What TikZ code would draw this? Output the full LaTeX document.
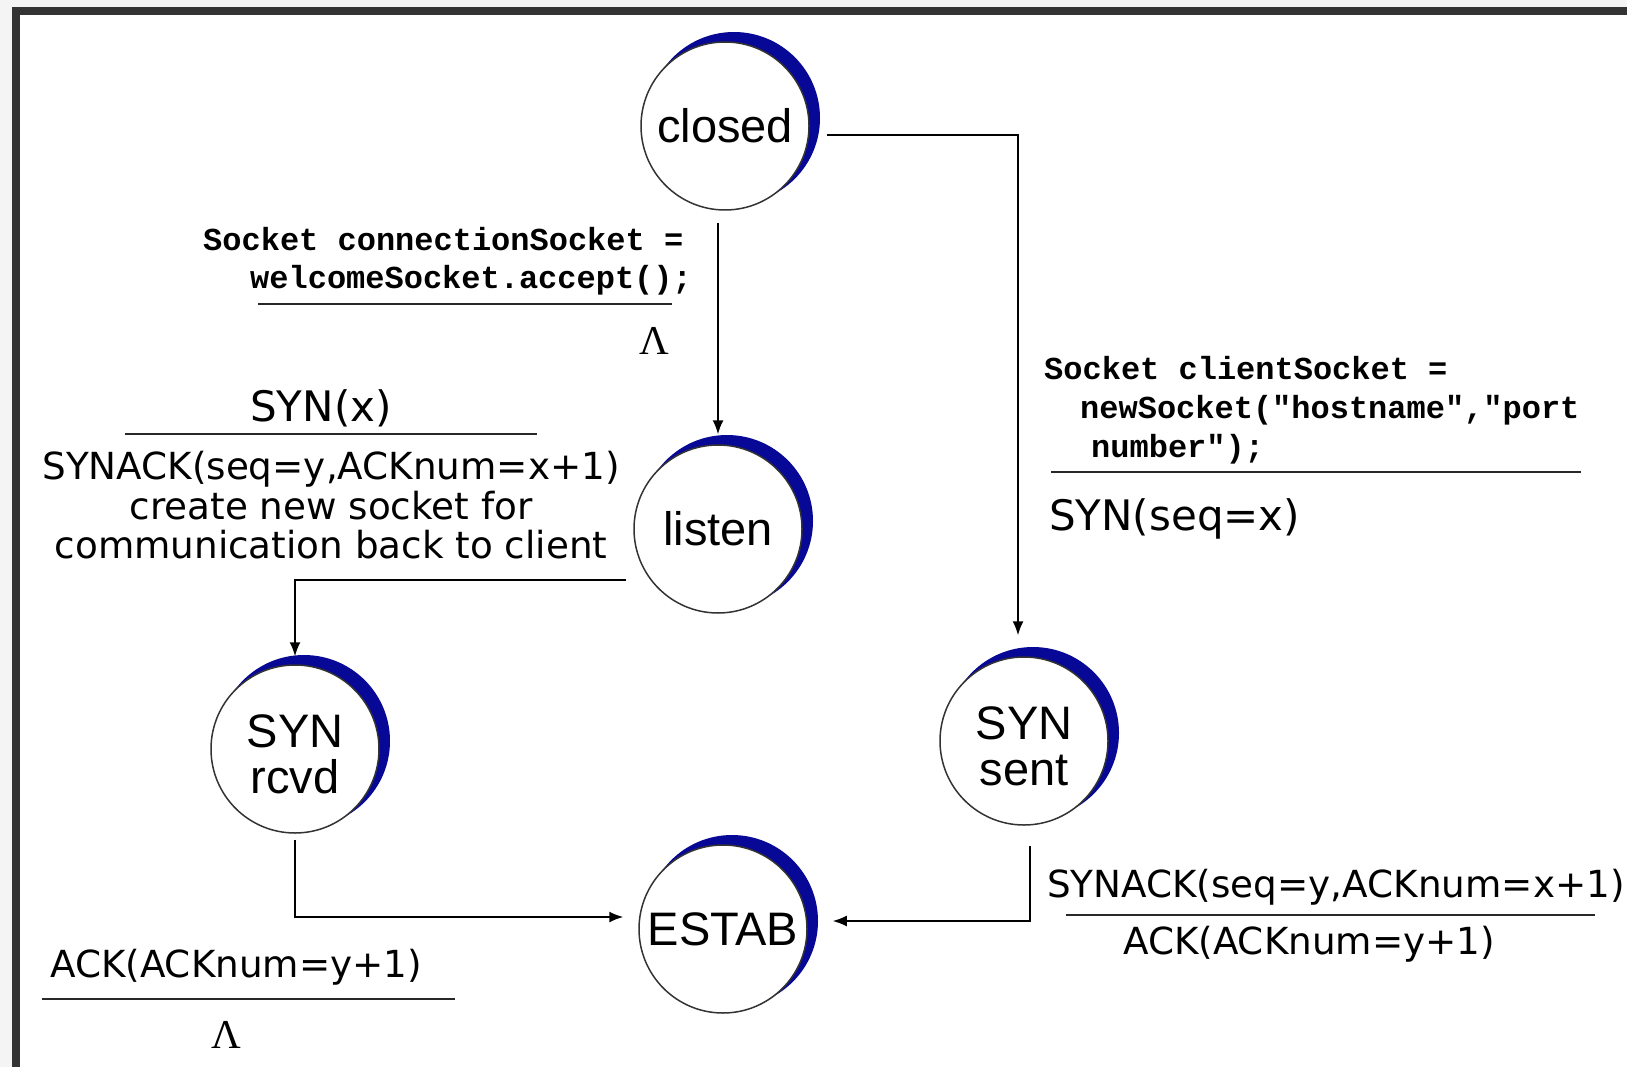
\documentclass[tikz,border=0pt]{standalone}
\usepackage{fontspec}
\usetikzlibrary{arrows.meta,calc,backgrounds}
\newfontfamily\lblfont{DejaVu Sans}
\newfontfamily\statefont{Liberation Sans}
\newfontfamily\codefont{Liberation Mono}
\newfontfamily\lamfont{Liberation Serif}
\definecolor{crescent}{RGB}{8,8,150}
\definecolor{framegray}{RGB}{51,51,51}
\definecolor{pagegray}{RGB}{244,244,244}
\definecolor{rulegray}{RGB}{40,40,40}
\begin{document}
\begin{tikzpicture}[x=1pt,y=-1pt,
  state/.style={circle, draw=black!80, line width=1.5pt, fill=white,
    minimum size=168pt, inner sep=0pt, align=center,
    font=\statefont\fontsize{47}{46}\selectfont},
  conn/.style={draw=black, line width=1.6pt, -{Latex[length=14pt,width=11pt]}},
  fracrule/.style={draw=rulegray, line width=2.2pt},
  ev/.style={font=\lblfont\fontsize{42}{44}\selectfont, inner sep=0pt},
  act/.style={font=\lblfont\fontsize{37.3}{39.5}\selectfont, inner sep=0pt, align=center},
  code/.style={font=\codefont\bfseries\fontsize{32}{37}\selectfont, inner sep=0pt, anchor=base west},
  lam/.style={font=\lamfont\fontsize{41}{41}\selectfont, inner sep=0pt, anchor=base}
]
\useasboundingbox (0,0) rectangle (1627,1067);

% page, dark frame and white sheet
\begin{scope}[on background layer]
  \fill[pagegray] (0,0) rectangle (1627,1067);
  \fill[framegray] (12,7) rectangle (1627,1067);
  \fill[white] (20,15) rectangle (1627,1067);
\end{scope}

% states
\node[state] (closed)  at (725,126) {closed};
\node[state] (listen)  at (718,529) {listen};
\node[state] (synrcvd) at (295,749) {\rule{0pt}{44pt}SYN\\rcvd};
\node[state] (synsent) at (1024,741) {\rule{0pt}{44pt}SYN\\sent};
\node[state] (estab)   at (723,929) {ESTAB};

% blue shading crescents behind the states
\begin{scope}[on background layer]
  \foreach \s in {closed,listen,synrcvd,synsent,estab}
    \fill[crescent] ($(\s.center)+(9,-8)$) circle (86pt);
\end{scope}

% transitions
\draw[conn] ($(closed.east)+(17,9)$) -| ($(synsent.north)+(-6,-21)$);
\draw[conn] ($(closed.south)+(-7,12)$) -- ($(listen.north)+(0,-10)$);
\draw[conn] ($(listen.west)+(-7,51)$) -| ($(synrcvd.north)+(0,-8)$);
\draw[conn] ($(synrcvd.south)+(0,6)$) |- ($(estab.west)+(-15,-12)$);
\draw[conn] ($(synsent.south)+(6,20)$) |- ($(estab.east)+(25,-8)$);

% server side: closed -> listen
\node[code] (srvA) at (203,251) {Socket connectionSocket =};
\node[code] (srvB) at (250,289) {welcomeSocket.accept();};
\draw[fracrule] (258,304) -- (672,304);
\node[lam] (srvL) at (654,354) {Λ};

% client side: closed -> SYN sent
\node[code] (cliA) at (1044,379) {Socket clientSocket =};
\node[code] (cliB) at (1080,418) {newSocket("hostname","port};
\node[code] (cliC) at (1091,457) {number");};
\draw[fracrule] (1051,472) -- (1581,472);
\node[ev, anchor=base west] (cliE) at (1049,530) {SYN(seq=x)};

% listen -> SYN rcvd
\node[ev, anchor=base] (lsnE) at (321,421) {SYN(x)};
\draw[fracrule] (125,434) -- (537,434);
\node[act, anchor=north] (lsnA) at (331,451)
  {SYNACK(seq=y,ACKnum=x+1)\\create new socket for\\communication back to client};

% SYN sent -> ESTAB
\node[act, anchor=base west] (sntE) at (1047,897) {SYNACK(seq=y,ACKnum=x+1)};
\draw[fracrule] (1066,915) -- (1595,915);
\node[act, anchor=base west] (sntA) at (1123,954) {ACK(ACKnum=y+1)};

% SYN rcvd -> ESTAB
\node[act, anchor=base west] (rcvE) at (50,977) {ACK(ACKnum=y+1)};
\draw[fracrule] (42,999) -- (455,999);
\node[lam] (rcvL) at (226,1048) {Λ};
\end{tikzpicture}
\end{document}
